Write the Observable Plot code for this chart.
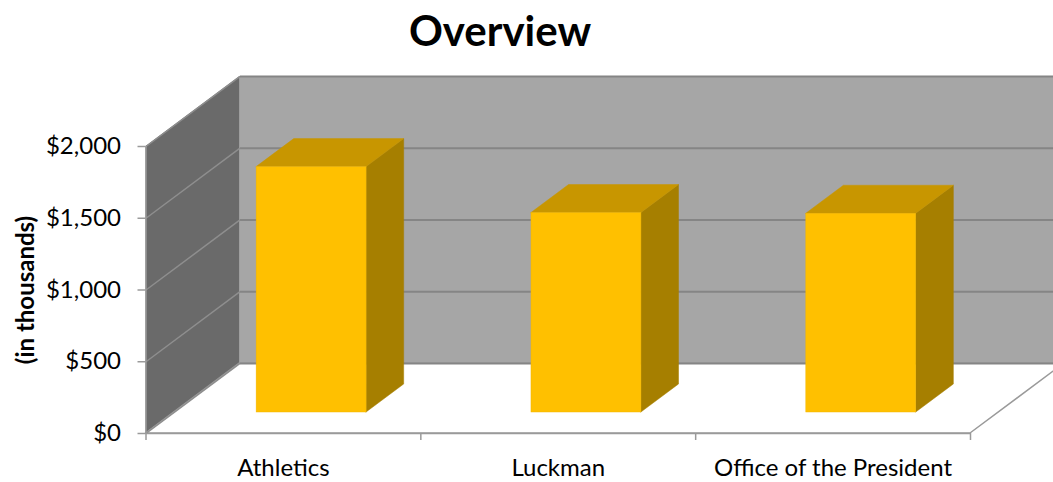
<!DOCTYPE html>
<html><head><meta charset="utf-8">
<script src="https://cdn.jsdelivr.net/npm/d3@7"></script>
<script src="https://cdn.jsdelivr.net/npm/@observablehq/plot@0.6"></script>
<style>
body{margin:0;background:#fff;font-family:Lato,sans-serif;}
#title{height:60px;line-height:60px;width:1000px;text-align:center;font-weight:bold;font-size:42px;color:#000;}
</style></head><body>
<div id="title"></div>
<div id="chart"></div>
<script>
const title = "Overview";
const categories = ["Athletics", "Luckman", "Office of the President"];
const values = [1710, 1390, 1385];
const yTicks = [0, 500, 1000, 1500, 2000];
const yLabel = "(in thousands)";

// oblique 3D depth, in data units (categories / value)
const DX = 0.342, DY = 488;
const setBack = 0.3, barDepth = 0.4, barLeft = 0.3, barWidth = 0.4;
const nCat = categories.length;
const yMax = yTicks[yTicks.length - 1];

document.getElementById("title").textContent = title;

const bars = categories.map((c, i) => ({c, i, v: values[i]}));
const faces = bars.flatMap(b => [setBack, setBack + barDepth].map(t => ({...b, t})));
const wallPts = [0, 1];

const chart = Plot.plot({
  width: 1053, height: 422,
  marginLeft: 145.5, marginRight: 83, marginTop: 86, marginBottom: 49,
  x: {domain: [0, nCat], axis: null},
  y: {domain: [0, yMax], axis: null},
  style: {fontFamily: "Lato, sans-serif", fontSize: "24px", color: "#000"},
  marks: [
    // back wall
    Plot.rect([0], {x1: DX, x2: nCat + DX, y1: DY, y2: yMax + DY, fill: "#a6a6a6"}),
    // left wall
    Plot.areaY(wallPts, {x: f => f * DX, y1: f => f * DY, y2: f => yMax + f * DY, fill: "#6a6a6a"}),
    // floor
    Plot.areaX(wallPts, {y: f => f * DY, x1: f => f * DX, x2: f => nCat + f * DX, fill: "#fff", stroke: "#9a9a9a", strokeWidth: 1.5}),
    // gridlines
    Plot.link(yTicks, {x1: DX, x2: nCat + DX, y1: d => d + DY, y2: d => d + DY, stroke: "#858585", strokeWidth: 2}),
    Plot.link(yTicks, {x1: 0, x2: DX, y1: d => d, y2: d => d + DY, stroke: "#8e8e8e", strokeWidth: 1.5}),
    // axes
    Plot.ruleX([0], {y1: 0, y2: yMax, stroke: "#9a9a9a", strokeWidth: 1.5}),
    Plot.ruleY([0], {x1: 0, x2: nCat, stroke: "#9a9a9a", strokeWidth: 1.5}),
    Plot.axisY({ticks: yTicks, tickFormat: d3.format("$,"), tickSize: 8, tickPadding: 17, stroke: "#9a9a9a", strokeWidth: 1.5, fontSize: 24, label: null}),
    Plot.axisX({ticks: d3.range(nCat + 1), tickFormat: () => "", tickSize: 7, stroke: "#9a9a9a", strokeWidth: 1.5, label: null}),
    Plot.text(categories, {x: (d, i) => i + 0.5, y: 0, dy: 35, fontSize: 24, fill: "#000"}),
    Plot.text([yLabel], {frameAnchor: "left", textAnchor: "middle", rotate: -90, dx: -120, fontSize: 24, fontWeight: "bold", fill: "#000"}),
    // bars: side, top, front
    Plot.areaY(faces, {x: d => d.i + barLeft + barWidth + d.t * DX, y1: d => d.t * DY, y2: d => d.v + d.t * DY, z: "c", fill: "#a67f00", stroke: "#a67f00", strokeWidth: 0.5}),
    Plot.areaX(faces, {y: d => d.v + d.t * DY, x1: d => d.i + barLeft + d.t * DX, x2: d => d.i + barLeft + barWidth + d.t * DX, z: "c", fill: "#c89600", stroke: "#c89600", strokeWidth: 0.5}),
    Plot.rect(bars, {x1: d => d.i + barLeft + setBack * DX, x2: d => d.i + barLeft + barWidth + setBack * DX, y1: setBack * DY, y2: d => d.v + setBack * DY, fill: "#ffc000", stroke: "#f2b600", strokeWidth: 0.5})
  ]
});
document.getElementById("chart").appendChild(chart);
</script>
</body></html>
